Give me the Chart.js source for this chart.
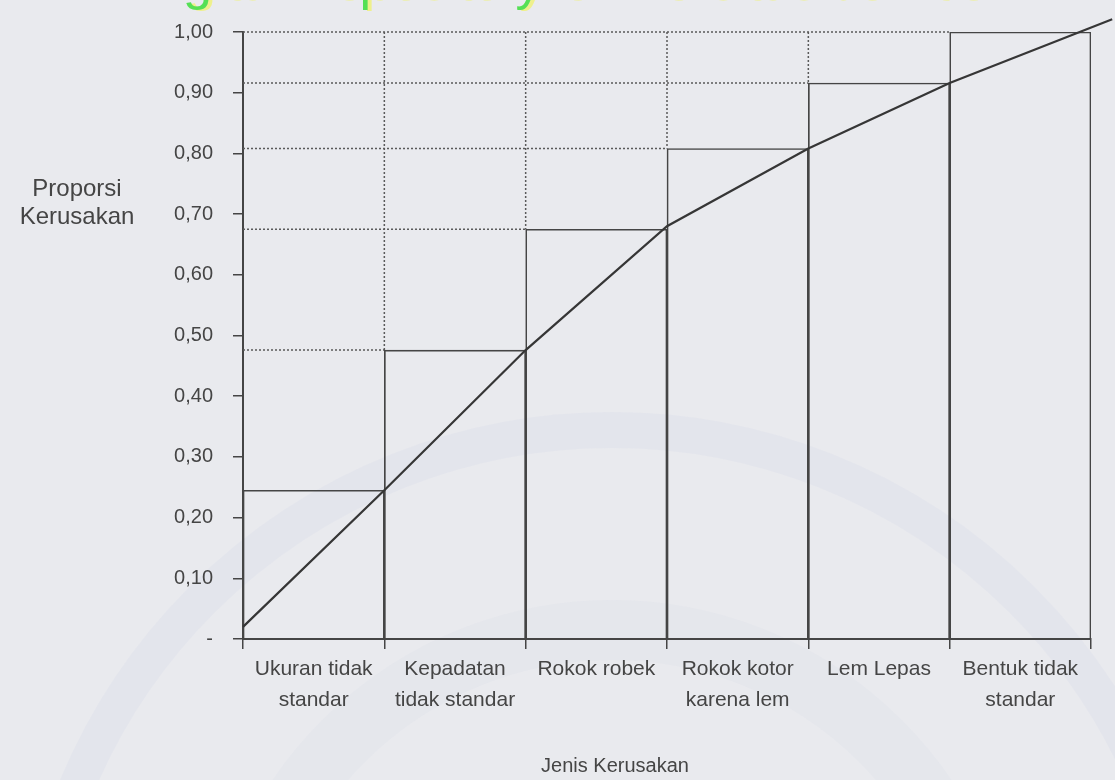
<!DOCTYPE html>
<html>
<head>
<meta charset="utf-8">
<script src="https://cdn.jsdelivr.net/npm/chart.js@4/dist/chart.umd.min.js"></script>
<style>
  html, body { margin: 0; padding: 0; background: #e9eaee; }
  canvas { display: block; }
</style>
</head>
<body>
<canvas id="pareto" width="1115" height="780"></canvas>
<script>
// jenis kerusakan dan proporsi kumulatifnya
const categories = [
  ['Ukuran tidak', 'standar'],
  ['Kepadatan', 'tidak standar'],
  ['Rokok robek'],
  ['Rokok kotor', 'karena lem'],
  ['Lem Lepas'],
  ['Bentuk tidak', 'standar']
];
const cumulative = [0.245, 0.476, 0.675, 0.808, 0.916, 1.00];

// garis kumulatif (posisi x dalam satuan kategori)
const curveX = [0, 1, 2, 3, 4, 5, 6.15];
const curveY = [0.02, 0.245, 0.476, 0.68, 0.808, 0.916, 1.021];

const yTicks = [0, 0.1, 0.2, 0.3, 0.4, 0.5, 0.6, 0.7, 0.8, 0.9, 1.0];

const ink = '#454545';
const font = "'Liberation Sans', Arial, sans-serif";

const backdrop = {
  id: 'backdrop',
  beforeDraw(chart) {
    const ctx = chart.ctx;
    ctx.save();
    ctx.fillStyle = '#e9eaee';
    ctx.fillRect(0, 0, chart.width, chart.height);

    // logo samar di belakang grafik
    ctx.strokeStyle = 'rgba(200, 206, 228, 0.16)';
    ctx.lineWidth = 36;
    ctx.beginPath();
    ctx.arc(612, 1010, 580, 0, Math.PI * 2);
    ctx.stroke();
    ctx.strokeStyle = 'rgba(205, 210, 230, 0.14)';
    ctx.lineWidth = 60;
    ctx.beginPath();
    ctx.arc(612, 1010, 380, 0, Math.PI * 2);
    ctx.stroke();

    // teks repositori di tepi atas
    ctx.font = '52px ' + font;
    ctx.textBaseline = 'alphabetic';
    ctx.fillStyle = '#eef08c';
    ctx.fillText('Digital Repository Universitas Jember', 138, 0);
    ctx.fillStyle = '#55e055';
    ctx.fillText('Digital Repository Universitas Jember', 134, -1);

    // judul sumbu, mendatar
    ctx.fillStyle = ink;
    ctx.font = '24px ' + font;
    ctx.textAlign = 'center';
    ctx.textBaseline = 'middle';
    ctx.fillText('Proporsi', 77, 189);
    ctx.fillText('Kerusakan', 77, 217);
    ctx.font = '20px ' + font;
    ctx.fillText('Jenis Kerusakan', 615, 766);
    ctx.restore();
  }
};

// garis bantu titik-titik dari puncak tiap batang
const guides = {
  id: 'guides',
  beforeDatasetsDraw(chart) {
    const ctx = chart.ctx;
    const y = chart.scales.y;
    const bars = chart.getDatasetMeta(0).data;
    const left = chart.chartArea.left;
    const top = y.getPixelForValue(1);
    ctx.save();
    ctx.strokeStyle = '#5a5a5a';
    ctx.lineWidth = 1.5;
    ctx.setLineDash([2, 2]);
    for (let i = 1; i < bars.length; i++) {
      const x0 = bars[i].x - bars[i].width / 2;
      const yv = y.getPixelForValue(cumulative[i]);
      ctx.beginPath();
      ctx.moveTo(left, yv);
      ctx.lineTo(x0, yv);
      ctx.moveTo(x0, top);
      ctx.lineTo(x0, yv);
      ctx.stroke();
    }
    ctx.restore();
  }
};

new Chart(document.getElementById('pareto'), {
  type: 'bar',
  data: {
    labels: categories,
    datasets: [
      {
        type: 'bar',
        data: cumulative,
        backgroundColor: 'rgba(0,0,0,0)',
        borderColor: ink,
        borderWidth: 1,
        barPercentage: 1,
        categoryPercentage: 1,
        grouped: false,
        order: 2
      },
      {
        type: 'line',
        xAxisID: 'xl',
        data: curveX.map((x, i) => ({ x: x, y: curveY[i] })),
        borderColor: '#363636',
        borderWidth: 2.2,
        pointRadius: 0,
        tension: 0,
        clip: false,
        order: 1
      }
    ]
  },
  options: {
    responsive: false,
    animation: false,
    layout: { padding: { left: 0, right: 24, top: 23, bottom: 0 } },
    plugins: {
      legend: { display: false },
      tooltip: { enabled: false }
    },
    scales: {
      x: {
        offset: true,
        grid: {
          offset: true,
          drawOnChartArea: false,
          tickLength: 10,
          color: ink,
          lineWidth: 1.5
        },
        border: { color: ink, width: 2 },
        ticks: {
          color: ink,
          padding: 4,
          maxRotation: 0,
          autoSkip: false,
          font: { family: font, size: 21, lineHeight: 1.5 }
        },
        afterFit(scale) { scale.height = 141; }
      },
      xl: {
        type: 'linear',
        display: false,
        min: 0,
        max: 6,
        offset: false
      },
      y: {
        min: 0,
        max: 1,
        afterBuildTicks(scale) {
          scale.ticks = yTicks.map(v => ({ value: v }));
        },
        grid: {
          drawOnChartArea: false,
          tickLength: 10,
          color: ink,
          lineWidth: 1.5
        },
        border: { color: ink, width: 2 },
        ticks: {
          color: ink,
          padding: 20,
          font: { family: font, size: 20 },
          callback: v => v === 0 ? '-' : v.toFixed(2).replace('.', ',')
        },
        afterFit(scale) { scale.width = 243; }
      }
    }
  },
  plugins: [backdrop, guides]
});
</script>
</body>
</html>
